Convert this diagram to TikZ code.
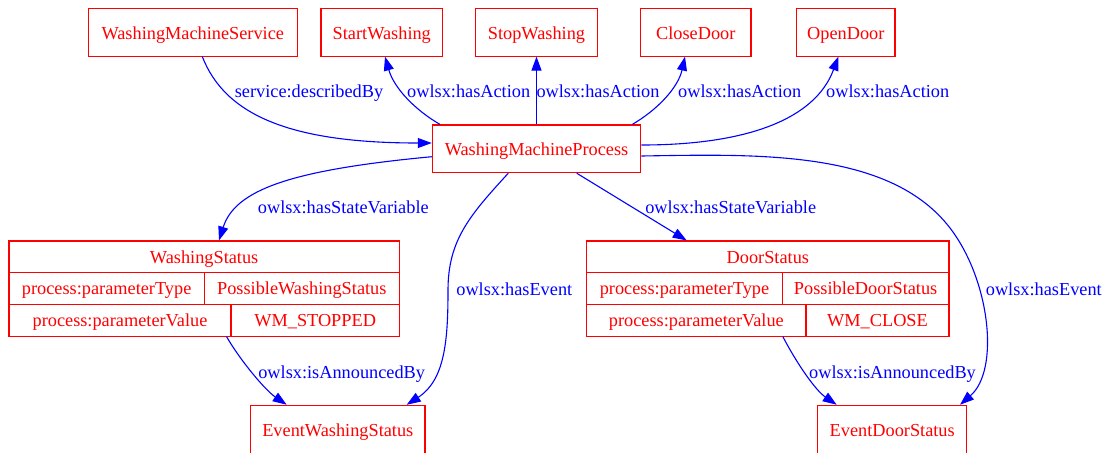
\documentclass[tikz,border=0pt]{standalone}
\usepackage{fontspec}
\setmainfont{Liberation Serif}
\usetikzlibrary{arrows.meta,calc}
\definecolor{gvred}{RGB}{255,0,0}
\definecolor{gvblue}{RGB}{0,0,255}
\begin{document}
\begin{tikzpicture}[x=0.5pt,y=-0.5pt,
  every node/.style={font=\fontsize{9.15pt}{11pt}\selectfont},
  box/.style={draw=gvred,text=gvred,line width=0.55pt,inner sep=0pt,
    minimum height=23.85pt,text height=8.8pt,text depth=2pt},
  evbox/.style={box,minimum height=26pt,text height=6.7pt,text depth=2pt},
  cell/.style={draw=gvred,text=gvred,line width=0.55pt,inner sep=0pt,
    minimum height=15.85pt,text height=8.4pt,text depth=2pt},
  rel/.style={draw=gvblue,line width=0.55pt,-{Triangle[length=7pt,width=5pt]}},
  lbl/.style={text=gvblue,anchor=base,inner sep=0pt}]

\clip (0,0) rectangle (1111,452);

% top row: service and actions
\node[box,minimum width=104.5pt] (wms)   at (192.8,32.2) {WashingMachineService};
\node[box,minimum width=60.85pt] (start) at (381.8,32.2) {StartWashing};
\node[box,minimum width=60.8pt]  (stop)  at (536.5,32.2) {StopWashing};
\node[box,minimum width=55.15pt] (close) at (695.8,32.2) {CloseDoor};
\node[box,minimum width=49.15pt] (open)  at (845.8,32.2) {OpenDoor};

% process
\node[box,minimum width=104.2pt] (wmp) at (536.5,148.8) {WashingMachineProcess};

% state variable WashingStatus
\node[cell,minimum width=195.15pt] (ws-name) at (204.15,256.85) {WashingStatus};
\node[cell,minimum width=97.65pt]  (ws-tk)   at (106.65,288.55) {process:parameterType};
\node[cell,minimum width=97.5pt]   (ws-tv)   at (301.8,288.55) {PossibleWashingStatus};
\node[cell,minimum width=111pt]    (ws-vk)   at (120,320.2) {process:parameterValue};
\node[cell,minimum width=84.15pt]  (ws-vv)   at (315.15,320.2) {WM\_STOPPED};

% state variable DoorStatus
\node[cell,minimum width=181.15pt] (ds-name) at (767.85,256.85) {DoorStatus};
\node[cell,minimum width=97.8pt]   (ds-tk)   at (684.5,288.55) {process:parameterType};
\node[cell,minimum width=83.35pt]  (ds-tv)   at (865.65,288.55) {PossibleDoorStatus};
\node[cell,minimum width=109.65pt] (ds-vk)   at (696.35,320.2) {process:parameterValue};
\node[cell,minimum width=71.5pt]   (ds-vv)   at (877.5,320.2) {WM\_CLOSE};

% events (their lower edge runs past the page)
\node[evbox,minimum width=87.15pt] (ews) at (337.8,431.3) {EventWashingStatus};
\node[evbox,minimum width=74.5pt]  (eds) at (892.2,431.3) {EventDoorStatus};

% relations
\draw[rel] ($(wms.south)+(9.5,0)$) .. controls (225,115) and (290,143) .. ($(wmp.west)+(0,-5.8)$);
\draw[rel] ($(wmp.north)+(-96.5,0)$) .. controls (415,110) and (394,88) .. ($(start.south)+(3.2,0)$);
\draw[rel] (wmp.north) -- (stop.south);
\draw[rel] ($(wmp.north)+(95.8,0)$) .. controls (657,110) and (678,88) .. ($(close.south)+(-10.8,0)$);
\draw[rel] ($(wmp.east)+(0,-3.8)$) .. controls (745,145) and (815,120) .. ($(open.south)+(-7.5,0)$);
\draw[rel] ($(wmp.east)+(0,7.2)$) .. controls (760,154) and (890,150) .. (950,228)
  .. controls (990,280) and (1000,370) .. ($(eds.north)+(67.8,0)$);
\draw[rel] ($(wmp.west)+(0,7.9)$) .. controls (290,170) and (235,190) .. ($(ws-name.north)+(14.85,0)$);
\draw[rel] ($(wmp.south)+(40.2,0)$) -- ($(ds-name.north)+(-81.15,0)$);
\draw[rel] ($(wmp.south)+(-28.2,0)$) .. controls (470,215) and (448,240) .. (448,290)
  .. controls (448,340) and (445,380) .. ($(ews.north)+(68.9,0)$);
\draw[rel] ($(ws-vk.south east)+(-5,0)$) .. controls (240,360) and (265,390) .. ($(ews.north)+(-51.1,0)$);
\draw[rel] ($(ds-vk.south east)+(-23.7,0)$) .. controls (796,362) and (815,390) .. ($(eds.north)+(-55.5,0)$);

% relation labels
\node[lbl] (l-desc)  at (309,97)      {service:describedBy};
\node[lbl] (l-act1)  at (468.7,97)    {owlsx:hasAction};
\node[lbl] (l-act2)  at (598,97)      {owlsx:hasAction};
\node[lbl] (l-act3)  at (739.7,97)    {owlsx:hasAction};
\node[lbl] (l-act4)  at (887.7,97)    {owlsx:hasAction};
\node[lbl] (l-sv1)   at (343.3,213.5) {owlsx:hasStateVariable};
\node[lbl] (l-sv2)   at (730.7,213.5) {owlsx:hasStateVariable};
\node[lbl] (l-ev1)   at (514.3,295.5) {owlsx:hasEvent};
\node[lbl] (l-ev2)   at (1043.8,295.5) {owlsx:hasEvent};
\node[lbl] (l-ann1)  at (341.7,378)   {owlsx:isAnnouncedBy};
\node[lbl] (l-ann2)  at (892.5,378)   {owlsx:isAnnouncedBy};
\end{tikzpicture}
\end{document}
